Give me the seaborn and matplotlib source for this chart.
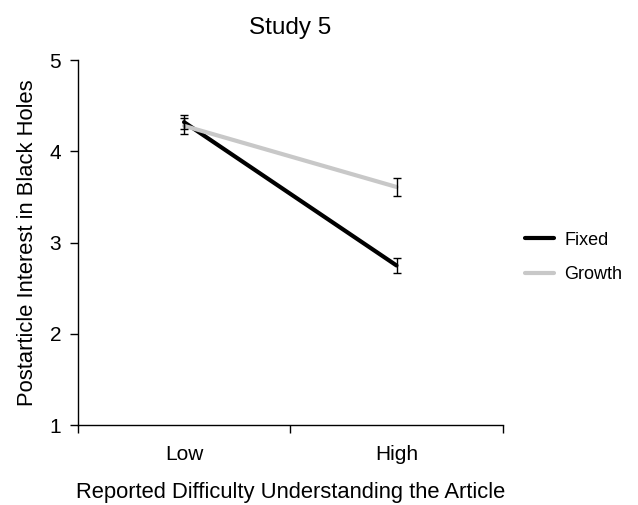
import pandas as pd
import seaborn as sns
from matplotlib import pyplot as plt

# data
difficulty = ["Low", "High"]
fixed_mean = [4.32, 2.75]
fixed_err = [0.08, 0.08]
growth_mean = [4.28, 3.61]
growth_err = [0.09, 0.10]

sns.set_style("ticks")
plt.rcParams['font.family'] = ['Liberation Sans', 'DejaVu Sans']
plt.rcParams['text.color'] = 'black'
plt.rcParams['axes.labelcolor'] = 'black'
plt.rcParams['xtick.color'] = 'black'
plt.rcParams['ytick.color'] = 'black'

pos = [0.5, 1.5]
df = pd.DataFrame({
    "x": pos + pos,
    "mean": fixed_mean + growth_mean,
    "err": fixed_err + growth_err,
    "Mindset": ["Fixed"] * 2 + ["Growth"] * 2,
})

fig = plt.figure(figsize=(6.38, 5.05), dpi=100)
ax = fig.add_axes([0.122, 0.158, 0.666, 0.723])

palette = {"Fixed": "black", "Growth": "#c8c8c8"}
sns.lineplot(data=df, x="x", y="mean", hue="Mindset", palette=palette,
             linewidth=3, ax=ax)
ax.errorbar(df["x"], df["mean"], yerr=df["err"], fmt="none", ecolor="black",
            elinewidth=1, capsize=3, capthick=1, zorder=5)

ax.set_xlim(0, 2)
ax.set_ylim(1, 5)
ax.set_yticks([1, 2, 3, 4, 5])
ax.set_xticks([0, 1, 2])
ax.set_xticklabels([])
ax.set_xticks(pos, minor=True)
ax.set_xticklabels(difficulty, minor=True)
ax.tick_params(axis="x", which="minor", length=0, pad=14, labelsize=15)
ax.tick_params(axis="x", which="major", length=6, width=1, direction="out")
ax.tick_params(axis="y", length=6, width=1, labelsize=15, pad=6)
for s in ["top", "right"]:
    ax.spines[s].set_visible(False)
for s in ["left", "bottom"]:
    ax.spines[s].set_linewidth(1)
    ax.spines[s].set_color("black")

ax.set_xlabel("Reported Difficulty Understanding the Article", fontsize=15.8, labelpad=13)
ax.set_ylabel("Postarticle Interest in Black Holes", fontsize=15.8, labelpad=8)
ax.set_title("Study 5", fontsize=17.5, pad=19)

ax.legend(loc="center left", bbox_to_anchor=(1.015, 0.46), frameon=False,
          fontsize=13, handlelength=1.6, handletextpad=0.55, labelspacing=0.95)

plt.savefig("out.png", dpi=100)
